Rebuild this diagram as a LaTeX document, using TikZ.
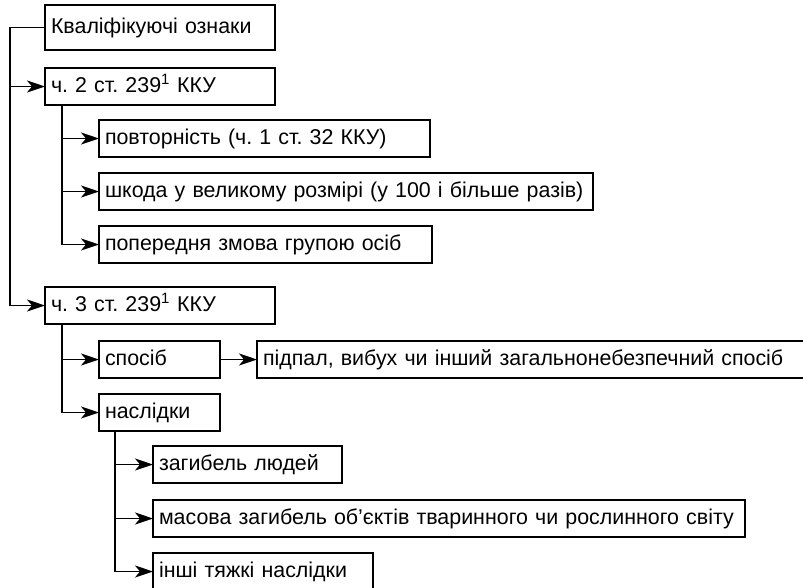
\documentclass[tikz,border=0pt]{standalone}
\usepackage{fontspec}
\setmainfont{Liberation Sans}
\usetikzlibrary{positioning,arrows.meta}

\begin{document}
\frenchspacing
\begin{tikzpicture}[
  x=1pt, y=1pt,
  b/.style={draw, line width=1.4pt, anchor=north west, align=left,
            font=\fontsize{21.4}{26}\selectfont, minimum height=37pt,
            inner xsep=6pt, inner ysep=0pt, outer sep=0pt,
            text height=15.5pt, text depth=4.5pt},
  >={Stealth[length=18pt, width=12pt, inset=5pt]},
  every path/.style={line width=1.4pt}
]
  \useasboundingbox (0,0) rectangle (803,-587);

  % --- top
  \node[b, text width=218pt, minimum height=45pt] (kv) at (45,-5) {Кваліфікуючі ознаки};
  \node[b, text width=218pt] (p2) [below right=18pt and 0pt of kv.south west] {ч. 2 ст. 239\textsuperscript{1} ККУ};

  % --- ч. 2
  \node[b, text width=319pt] (pov) [below right=15pt and 54pt of p2.south west] {повторність (ч. 1 ст. 32 ККУ)};
  \node[b, text width=482pt] (shk) [below right=16pt and 0pt of pov.south west] {шкода у великому розмірі (у 100 і більше разів)};
  \node[b, text width=321pt] (zm) [below right=16pt and 0pt of shk.south west] {попередня змова групою осіб};

  % --- ч. 3
  \node[b, text width=218pt] (p3) [below right=24pt and -54pt of zm.south west] {ч. 3 ст. 239\textsuperscript{1} ККУ};
  \node[b, text width=109pt] (sp) [below right=17pt and 54pt of p3.south west] {спосіб};
  \node[b, text width=540pt] (pd) [right=37pt of sp.east, anchor=west] {підпал, вибух чи інший загальнонебезпечний спосіб};
  \node[b, text width=109pt] (nas) [below right=16pt and 0pt of sp.south west] {наслідки};

  % --- наслідки
  \node[b, text width=177pt] (zl) [below right=15pt and 54pt of nas.south west] {загибель людей};
  \node[b, text width=580pt] (mas) [below right=17pt and 0pt of zl.south west] {масова загибель об’єктів тваринного чи рослинного світу};
  \node[b, text width=208pt] (ins) [below right=16pt and 0pt of mas.south west] {інші тяжкі наслідки};

  % --- connectors
  \draw[->] (kv.west) -- ++(-35,0) |- (p2.west);
  \draw[->] (kv.west) -- ++(-35,0) |- (p3.west);

  \draw[->] ([xshift=17pt]p2.south west) |- (pov.west);
  \draw[->] ([xshift=17pt]p2.south west) |- (shk.west);
  \draw[->] ([xshift=17pt]p2.south west) |- (zm.west);

  \draw[->] ([xshift=17pt]p3.south west) |- (sp.west);
  \draw[->] ([xshift=17pt]p3.south west) |- (nas.west);
  \draw[->] (sp) -- (pd);

  \draw[->] ([xshift=16pt]nas.south west) |- (zl.west);
  \draw[->] ([xshift=16pt]nas.south west) |- (mas.west);
  \draw[->] ([xshift=16pt]nas.south west) |- (ins.west);
\end{tikzpicture}
\end{document}
